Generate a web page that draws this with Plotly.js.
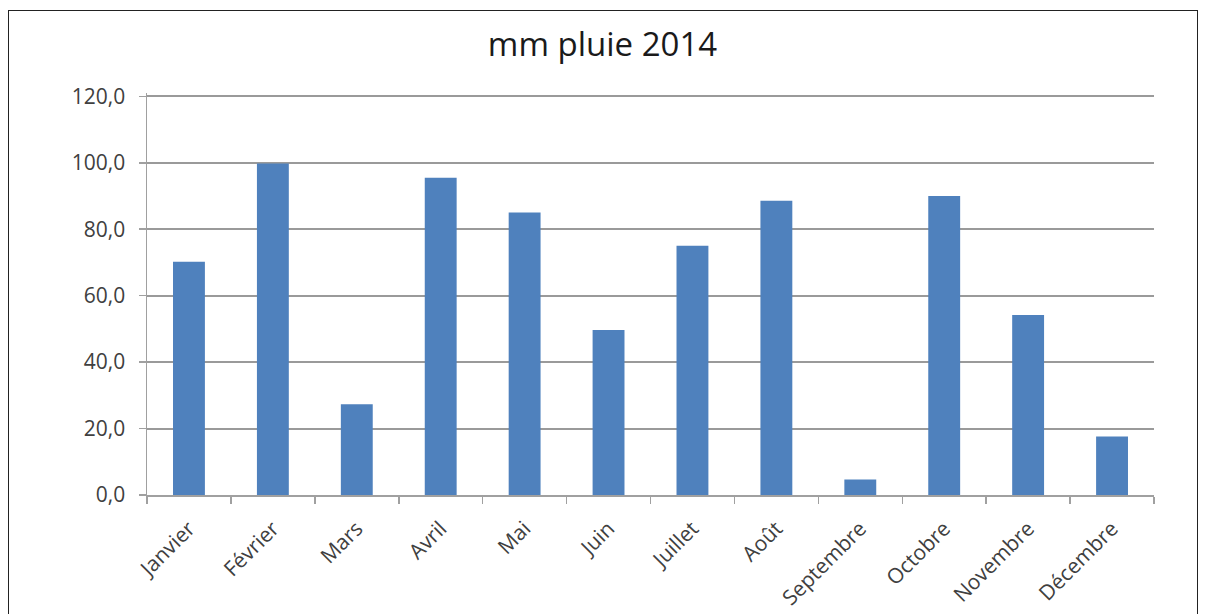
<!DOCTYPE html>
<html>
<head>
<meta charset="utf-8">
<script src="https://cdn.plot.ly/plotly-3.0.1.min.js"></script>
<style>
body{margin:0;padding:0;background:#fff;}
#chart{position:absolute;left:0;top:0;width:1205px;height:614px;}
#frame{position:absolute;left:8px;top:10px;width:1188px;height:700px;border:1.5px solid #222;pointer-events:none;}
</style>
</head>
<body>
<div id="chart"></div>
<div id="frame"></div>
<script>
const months = ["Janvier","Février","Mars","Avril","Mai","Juin","Juillet","Août","Septembre","Octobre","Novembre","Décembre"];
const rainMm = [70.2, 99.8, 27.3, 95.5, 85.0, 49.7, 75.0, 88.6, 4.7, 90.0, 54.2, 17.6];
const yTicks = [0, 20, 40, 60, 80, 100, 120];
const chartTitle = "mm pluie 2014";

const trace = {
  type: "bar",
  x: months,
  y: rainMm,
  marker: {color: "#4f81bd"},
  hoverinfo: "x+y"
};

const fontFam = "'Open Sans', 'Noto Sans', sans-serif";

const layout = {
  width: 1205,
  height: 614,
  margin: {l: 147, r: 51, t: 93, b: 119},
  paper_bgcolor: "#ffffff",
  plot_bgcolor: "#ffffff",
  separators: ", ",
  showlegend: false,
  bargap: 0.62,
  title: {
    text: chartTitle,
    x: 0.5,
    xanchor: "center",
    y: 0.927,
    yanchor: "middle",
    font: {family: fontFam, size: 33, color: "#1a1a1a"}
  },
  xaxis: {
    type: "category",
    showgrid: false,
    showline: true,
    linecolor: "#a0a0a0",
    linewidth: 2,
    ticks: "outside",
    tickson: "boundaries",
    ticklen: 7,
    tickcolor: "#a0a0a0",
    tickwidth: 1.5,
    tickangle: -45,
    ticklabelstandoff: 11,
    tickfont: {family: fontFam, size: 21, color: "#404040"}
  },
  yaxis: {
    range: [0, 121],
    tickvals: yTicks,
    tickformat: ".1f",
    showgrid: true,
    gridcolor: "#9a9a9a",
    gridwidth: 2,
    zeroline: false,
    showline: true,
    linecolor: "#a0a0a0",
    linewidth: 1.5,
    ticks: "outside",
    ticklen: 7,
    tickcolor: "#a0a0a0",
    tickwidth: 1.5,
    ticklabelstandoff: 9,
    tickfont: {family: fontFam, size: 21, color: "#404040"}
  }
};

Plotly.newPlot("chart", [trace], layout, {displayModeBar: false, staticPlot: true});
</script>
</body>
</html>
